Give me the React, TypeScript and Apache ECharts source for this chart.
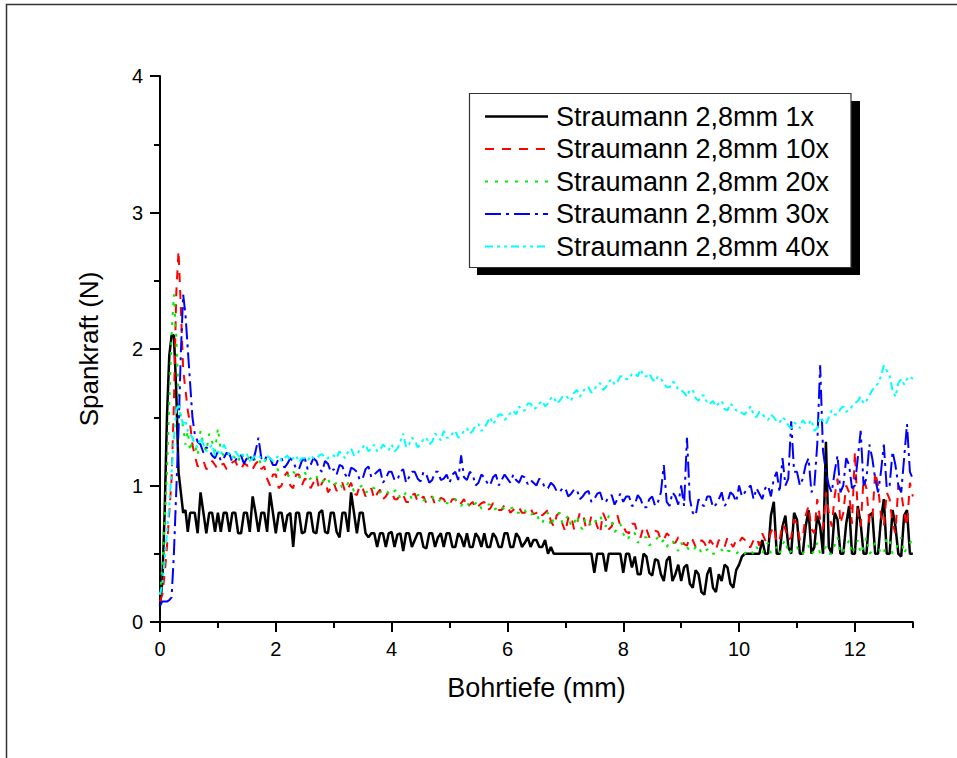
import React, { useEffect, useRef } from "react";
import * as echarts from "echarts";

// Drilling depth sampling grid (mm): fine at the start, then every 0.1 mm, plus half-step samples
const depthEarly = [0, 0.04, 0.08, 0.12, 0.16, 0.2, 0.24, 0.28, 0.32, 0.36, 0.4, 0.44, 0.48, 0.52, 0.56];
const depthMain: number[] = [];
for (let i = 6; i <= 130; i++) depthMain.push(i / 10);
const depthMid: number[] = [];
for (let i = 6; i < 130; i++) depthMid.push((i + 0.5) / 10);

const xTicks = [0, 2, 4, 6, 8, 10, 12];

const seriesNames = [
  "Straumann 2,8mm 1x",
  "Straumann 2,8mm 10x",
  "Straumann 2,8mm 20x",
  "Straumann 2,8mm 30x",
  "Straumann 2,8mm 40x",
];

// Spankraft (N) at depthEarly + depthMain
const force1x = [
  0.12, 0.3, 0.8, 1.5, 1.95, 2.1, 2.1, 1.7, 1.1, 0.95, 0.8, 0.82, 0.66, 0.8, 0.8,
  0.8, 0.95, 0.65, 0.8,
  0.8, 0.8, 0.66, 0.8, 0.65, 0.8, 0.92, 0.66, 0.8, 0.95,
  0.65, 0.8, 0.78, 0.55, 0.8, 0.66, 0.8, 0.65, 0.82, 0.65,
  0.8, 0.62, 0.8, 0.95, 0.65, 0.8, 0.62, 0.65, 0.65, 0.55,
  0.66, 0.64, 0.52, 0.65, 0.6, 0.65, 0.54, 0.65, 0.62, 0.55,
  0.65, 0.55, 0.62, 0.65, 0.55, 0.62, 0.65, 0.55, 0.62, 0.55,
  0.65, 0.55, 0.62, 0.58, 0.55, 0.6, 0.55, 0.5, 0.5, 0.5,
  0.5, 0.5, 0.5, 0.5, 0.5, 0.36, 0.5, 0.37, 0.5, 0.5,
  0.36, 0.5, 0.48, 0.35, 0.48, 0.34, 0.45, 0.3, 0.48, 0.35,
  0.3, 0.42, 0.25, 0.35, 0.2, 0.4, 0.22, 0.3, 0.4, 0.25,
  0.42, 0.5, 0.5, 0.5, 0.6, 0.5, 0.88, 0.5, 0.78, 0.5,
  0.75, 0.5, 0.82, 0.55, 0.7, 1.32, 0.5, 0.75, 0.5, 0.85,
  0.5, 0.72, 0.5, 0.8, 0.5, 0.9, 0.5, 0.7, 0.48, 0.82,
  0.5,
];
// Spankraft (N) at depthMid
const force1xMid = [
  0.65, 0.8, 0.8, 0.66,
  0.66, 0.8, 0.8, 0.65, 0.8, 0.66, 0.8, 0.8, 0.66, 0.8,
  0.8, 0.66, 0.8, 0.8, 0.65, 0.8, 0.66, 0.8, 0.66, 0.8,
  0.66, 0.8, 0.66, 0.8, 0.8, 0.65, 0.65, 0.55, 0.65, 0.65,
  0.55, 0.65, 0.65, 0.55, 0.65, 0.55, 0.65, 0.55, 0.65, 0.65,
  0.55, 0.65, 0.55, 0.55, 0.65, 0.55, 0.55, 0.65, 0.55, 0.65,
  0.55, 0.65, 0.55, 0.62, 0.6, 0.55, 0.6, 0.55, 0.5, 0.5,
  0.5, 0.5, 0.5, 0.5, 0.5, 0.5, 0.5, 0.5, 0.5, 0.5,
  0.5, 0.4, 0.35, 0.5, 0.36, 0.46, 0.35, 0.45, 0.3, 0.42,
  0.4, 0.28, 0.38, 0.22, 0.35, 0.25, 0.35, 0.42, 0.28, 0.38,
  0.48, 0.5, 0.5, 0.5, 0.5, 0.78, 0.5, 0.7, 0.55, 0.8,
  0.5, 0.7, 0.5, 0.78, 0.5, 0.55, 0.8, 0.5, 0.72, 0.5,
  0.85, 0.5, 0.78, 0.5, 0.75, 0.5, 0.82, 0.5, 0.78, 0.5,
];

const force10x = [
  0.15, 0.2, 0.35, 0.55, 0.8, 1.05, 1.6, 2.4, 2.72, 2.3, 1.85, 1.7, 1.55, 1.45, 1.3,
  1.22, 1.15, 1.12, 1.18,
  1.12, 1.16, 1.13, 1.18, 1.12, 1.15, 1.12, 1.18, 1.14, 1.0,
  1.08, 1.0, 1.1, 0.98, 1.08, 1.05, 0.98, 1.07, 1.02, 0.95,
  1.02, 1.0, 0.95, 1.02, 0.93, 0.98, 0.95, 0.9, 0.97, 0.92,
  0.95, 0.9, 0.93, 0.88, 0.94, 0.9, 0.87, 0.92, 0.88, 0.9,
  0.86, 0.9, 0.87, 0.84, 0.88, 0.85, 0.88, 0.83, 0.86, 0.82,
  0.85, 0.82, 0.84, 0.8, 0.83, 0.8, 0.78, 0.82, 0.7, 0.8,
  0.66, 0.78, 0.72, 0.8, 0.68, 0.77, 0.65, 0.75, 0.7, 0.78,
  0.7, 0.65, 0.72, 0.62, 0.68, 0.64, 0.66, 0.6, 0.63, 0.58,
  0.62, 0.56, 0.6, 0.55, 0.58, 0.6, 0.53, 0.58, 0.62, 0.55,
  0.58, 0.6, 0.55, 0.62, 0.65, 0.58, 0.7, 0.6, 0.68, 0.62,
  0.72, 0.62, 0.85, 0.65, 0.75, 0.95, 0.7, 1.05, 0.8, 0.95,
  1.25, 0.7, 0.98, 0.75, 1.0, 0.7, 0.9, 0.65, 0.95, 0.7,
  0.92,
];
const force10xMid = [
  1.14, 1.18, 1.13, 1.15,
  1.15, 1.12, 1.17, 1.13, 1.16, 1.11, 1.16, 1.12, 1.05, 1.08,
  0.98, 1.07, 1.0, 1.08, 1.0, 1.04, 1.02, 0.97, 1.05, 0.98,
  0.96, 1.02, 0.98, 0.94, 1.0, 0.92, 0.98, 0.94, 0.9, 0.96,
  0.9, 0.94, 0.88, 0.93, 0.88, 0.92, 0.9, 0.86, 0.91, 0.86,
  0.9, 0.85, 0.9, 0.86, 0.83, 0.87, 0.82, 0.87, 0.82, 0.86,
  0.8, 0.85, 0.8, 0.83, 0.79, 0.82, 0.8, 0.74, 0.78, 0.72,
  0.76, 0.68, 0.8, 0.7, 0.78, 0.7, 0.8, 0.68, 0.76, 0.7,
  0.66, 0.72, 0.64, 0.7, 0.62, 0.67, 0.6, 0.65, 0.58, 0.62,
  0.57, 0.62, 0.55, 0.6, 0.54, 0.57, 0.6, 0.55, 0.58, 0.6,
  0.62, 0.55, 0.6, 0.56, 0.6, 0.66, 0.58, 0.72, 0.6, 0.75,
  0.6, 0.78, 0.68, 0.9, 0.68, 0.8, 0.92, 0.72, 1.0, 0.72,
  0.8, 1.05, 0.72, 1.1, 0.78, 0.95, 0.72, 1.0, 0.8, 1.02,
];

const force20x = [
  0.2, 0.4, 0.75, 1.1, 1.6, 2.1, 2.4, 2.1, 1.65, 1.5, 1.43, 1.3, 1.4, 1.25, 1.35,
  1.3, 1.4, 1.25, 1.32,
  1.42, 1.22, 1.25, 1.2, 1.24, 1.18, 1.22, 1.2, 1.17, 1.2,
  1.15, 1.12, 1.08, 1.1, 1.05, 1.1, 1.05, 1.07, 1.02, 1.05,
  1.0, 1.03, 0.98, 1.0, 0.97, 1.0, 0.96, 0.98, 0.95, 0.97,
  0.93, 0.97, 0.92, 0.95, 0.9, 0.93, 0.9, 0.92, 0.88, 0.9,
  0.87, 0.9, 0.85, 0.88, 0.85, 0.88, 0.84, 0.86, 0.83, 0.85,
  0.82, 0.84, 0.8, 0.82, 0.78, 0.8, 0.72, 0.8, 0.76, 0.8,
  0.75, 0.7, 0.78, 0.68, 0.75, 0.72, 0.78, 0.7, 0.74, 0.68,
  0.65, 0.62, 0.65, 0.6, 0.62, 0.58, 0.62, 0.6, 0.58, 0.55,
  0.58, 0.55, 0.52, 0.56, 0.52, 0.54, 0.5, 0.53, 0.52, 0.5,
  0.52, 0.5, 0.52, 0.55, 0.5, 0.58, 0.52, 0.5, 0.6, 0.52,
  0.55, 0.5, 0.56, 0.52, 0.5, 0.55, 0.5, 0.62, 0.52, 0.6,
  0.55, 0.5, 0.62, 0.52, 0.56, 0.5, 0.6, 0.52, 0.62, 0.55,
  0.6,
];
const force20xMid = [
  1.22, 1.3, 1.38, 1.25,
  1.25, 1.2, 1.22, 1.17, 1.2, 1.22, 1.18, 1.15, 1.2, 1.16,
  1.1, 1.14, 1.06, 1.08, 1.1, 1.04, 1.08, 1.03, 1.06, 1.0,
  1.02, 0.98, 1.02, 0.96, 0.99, 0.95, 0.99, 0.94, 0.96, 0.94,
  0.96, 0.9, 0.95, 0.9, 0.93, 0.89, 0.91, 0.88, 0.9, 0.87,
  0.89, 0.86, 0.88, 0.84, 0.87, 0.83, 0.86, 0.82, 0.85, 0.82,
  0.83, 0.8, 0.83, 0.78, 0.8, 0.74, 0.78, 0.7, 0.78, 0.72,
  0.78, 0.72, 0.7, 0.76, 0.7, 0.76, 0.72, 0.78, 0.66, 0.72,
  0.6, 0.66, 0.58, 0.62, 0.56, 0.6, 0.58, 0.55, 0.6, 0.52,
  0.54, 0.52, 0.55, 0.5, 0.53, 0.5, 0.52, 0.5, 0.52, 0.5,
  0.5, 0.53, 0.5, 0.52, 0.55, 0.5, 0.55, 0.57, 0.5, 0.55,
  0.5, 0.54, 0.5, 0.58, 0.52, 0.5, 0.56, 0.5, 0.55, 0.5,
  0.6, 0.55, 0.5, 0.58, 0.5, 0.62, 0.5, 0.58, 0.5, 0.58,
];

const force30x = [
  0.12, 0.15, 0.15, 0.15, 0.16, 0.18, 0.5, 0.95, 1.4, 1.97, 2.4, 2.25, 2.0, 1.75, 1.5,
  1.38, 1.3, 1.28, 1.22,
  1.25, 1.2, 1.23, 1.18, 1.22, 1.2, 1.17, 1.35, 1.18, 1.2,
  1.15, 1.2, 1.16, 1.18, 1.12, 1.2, 1.15, 1.18, 1.1, 1.16,
  1.12, 1.15, 1.08, 1.13, 1.1, 1.05, 1.14, 1.08, 1.12, 1.05,
  1.1, 1.04, 1.12, 1.06, 1.1, 1.03, 1.08, 1.04, 1.1, 1.05,
  1.02, 1.1, 1.22, 1.04, 1.08, 1.02, 1.06, 1.0, 1.08, 1.04,
  1.05, 1.08, 1.02, 1.06, 1.04, 1.0, 1.03, 0.98, 1.0, 0.95,
  0.98, 0.94, 0.97, 0.92, 0.96, 0.9, 0.95, 0.88, 0.93, 0.9,
  0.88, 0.92, 0.86, 0.9, 0.84, 0.92, 0.88, 1.15, 0.85, 0.92,
  1.0, 1.35, 0.8, 0.9, 0.85, 0.92, 0.86, 0.95, 0.88, 0.93,
  1.0, 0.95, 1.0, 0.98, 0.9, 1.0, 1.05, 0.95, 1.0, 1.47,
  1.1, 1.05, 1.2, 1.0, 1.88, 1.1, 0.95, 1.22, 1.0, 1.15,
  1.0, 1.4, 1.05, 1.2, 0.95, 1.3, 1.0, 1.15, 0.95, 1.45,
  1.05,
];
const force30xMid = [
  1.32, 1.24, 1.26, 1.2,
  1.18, 1.24, 1.17, 1.22, 1.16, 1.22, 1.25, 1.2, 1.22, 1.15,
  1.2, 1.13, 1.2, 1.12, 1.18, 1.12, 1.2, 1.12, 1.18, 1.1,
  1.08, 1.14, 1.05, 1.12, 1.04, 1.12, 1.06, 1.1, 1.02, 1.1,
  1.04, 1.1, 1.02, 1.1, 1.05, 1.1, 1.02, 1.1, 1.04, 1.08,
  1.08, 1.04, 1.06, 1.1, 1.0, 1.08, 1.02, 1.06, 1.0, 1.08,
  1.02, 1.04, 1.07, 1.01, 1.02, 1.05, 0.98, 1.02, 0.96, 0.98,
  0.92, 0.97, 0.9, 0.95, 0.88, 0.94, 0.88, 0.92, 0.86, 0.94,
  0.92, 0.85, 0.93, 0.84, 0.9, 0.85, 0.95, 0.88, 0.95, 0.86,
  0.85, 0.9, 0.78, 0.86, 0.92, 0.84, 0.9, 0.85, 0.95, 0.88,
  0.92, 0.98, 0.9, 0.94, 0.98, 0.92, 1.1, 1.2, 1.05, 1.1,
  1.0, 1.15, 0.95, 1.3, 1.25, 1.0, 1.1, 0.95, 1.2, 0.98,
  1.2, 1.0, 1.3, 1.05, 1.1, 0.98, 1.25, 1.0, 1.2, 1.1,
];

const force40x = [
  0.2, 0.28, 0.45, 0.65, 0.85, 1.1, 1.35, 1.55, 1.6, 1.5, 1.45, 1.48, 1.4, 1.38, 1.35,
  1.3, 1.35, 1.25, 1.3,
  1.25, 1.3, 1.22, 1.25, 1.2, 1.23, 1.2, 1.22, 1.18, 1.2,
  1.2, 1.18, 1.22, 1.2, 1.17, 1.2, 1.22, 1.2, 1.23, 1.2,
  1.22, 1.25, 1.2, 1.27, 1.23, 1.28, 1.25, 1.3, 1.26, 1.28,
  1.3, 1.27, 1.38, 1.3, 1.33, 1.3, 1.35, 1.32, 1.36, 1.4,
  1.35, 1.4, 1.37, 1.42, 1.4, 1.45, 1.42, 1.5, 1.48, 1.52,
  1.5, 1.55, 1.58, 1.55, 1.6, 1.57, 1.62, 1.6, 1.65, 1.62,
  1.66, 1.62, 1.7, 1.68, 1.72, 1.7, 1.75, 1.72, 1.78, 1.76,
  1.8, 1.78, 1.82, 1.85, 1.8, 1.78, 1.8, 1.75, 1.72, 1.75,
  1.7, 1.65, 1.7, 1.62, 1.66, 1.6, 1.58, 1.62, 1.55, 1.58,
  1.55, 1.52, 1.58, 1.5, 1.52, 1.48, 1.5, 1.46, 1.48, 1.42,
  1.45, 1.48, 1.45, 1.4, 1.5, 1.45, 1.55, 1.52, 1.58, 1.55,
  1.6, 1.65, 1.62, 1.7, 1.75, 1.88, 1.8, 1.65, 1.78, 1.78,
  1.78,
];
const force40xMid = [
  1.28, 1.3, 1.27, 1.22,
  1.22, 1.26, 1.2, 1.22, 1.24, 1.18, 1.22, 1.2, 1.22, 1.18,
  1.22, 1.2, 1.18, 1.22, 1.2, 1.18, 1.2, 1.22, 1.2, 1.22,
  1.2, 1.22, 1.25, 1.22, 1.26, 1.3, 1.27, 1.25, 1.3, 1.26,
  1.25, 1.32, 1.28, 1.35, 1.28, 1.34, 1.3, 1.38, 1.33, 1.35,
  1.38, 1.35, 1.4, 1.38, 1.44, 1.4, 1.46, 1.45, 1.52, 1.48,
  1.53, 1.52, 1.55, 1.6, 1.56, 1.6, 1.58, 1.64, 1.6, 1.65,
  1.64, 1.68, 1.65, 1.72, 1.68, 1.74, 1.7, 1.76, 1.74, 1.8,
  1.78, 1.82, 1.8, 1.8, 1.82, 1.76, 1.78, 1.72, 1.76, 1.7,
  1.68, 1.7, 1.64, 1.66, 1.6, 1.62, 1.6, 1.56, 1.6, 1.55,
  1.53, 1.55, 1.52, 1.54, 1.5, 1.52, 1.47, 1.5, 1.44, 1.46,
  1.42, 1.45, 1.48, 1.42, 1.47, 1.5, 1.52, 1.56, 1.54, 1.58,
  1.62, 1.6, 1.66, 1.72, 1.8, 1.84, 1.7, 1.75, 1.74, 1.8,
];

const allForces = [force1x, force10x, force20x, force30x, force40x];
const allMids = [force1xMid, force10xMid, force20xMid, force30xMid, force40xMid];
const colors = ["#000000", "#ff0000", "#00ee00", "#0000ff", "#00ffff"];
const dashes: (number[] | "solid")[] = ["solid", [9, 8], [3, 7], [16, 5, 3, 5], [8, 4, 3, 4, 3, 4]];
const widths = [2.5, 2, 2, 2, 2];

const FONT = "'Liberation Sans', Arial, Helvetica, sans-serif";

function buildData(vals: number[], mids: number[]) {
  const out: number[][] = [];
  const nEarly = depthEarly.length;
  for (let k = 0; k < nEarly; k++) out.push([depthEarly[k], vals[k]]);
  for (let k = 0; k < depthMain.length; k++) {
    out.push([depthMain[k], vals[nEarly + k]]);
    if (k < depthMid.length) out.push([depthMid[k], mids[k]]);
  }
  return out;
}

export default function App() {
  const ref = useRef<HTMLDivElement>(null);

  useEffect(() => {
    if (!ref.current) return;
    const chart = echarts.init(ref.current, undefined, { renderer: "svg" });

    const series = allForces.map((vals, i) => ({
      name: seriesNames[i],
      type: "line",
      xAxisIndex: 0,
      yAxisIndex: 0,
      data: buildData(vals, allMids[i]),
      showSymbol: false,
      symbol: "none",
      clip: true,
      lineStyle: { color: colors[i], width: widths[i], type: dashes[i], cap: "butt" },
      z: 2 + i,
    }));

    const legendRows = [116.5, 149, 181.5, 214, 246.5];
    const legendGraphics: any[] = [
      {
        type: "rect",
        shape: { x: 477, y: 101, width: 383, height: 174 },
        style: { fill: "#000" },
        silent: true,
        z: 20,
      },
      {
        type: "rect",
        shape: { x: 469.5, y: 93.5, width: 381.5, height: 174 },
        style: { fill: "#fff", stroke: "#333", lineWidth: 1.2 },
        silent: true,
        z: 21,
      },
    ];
    seriesNames.forEach((n, i) => {
      legendGraphics.push({
        type: "line",
        shape: { x1: 485, y1: legendRows[i], x2: 548, y2: legendRows[i] },
        style: {
          stroke: colors[i],
          lineWidth: widths[i],
          lineDash: dashes[i] === "solid" ? null : dashes[i],
        },
        silent: true,
        z: 22,
      });
      legendGraphics.push({
        type: "text",
        x: 556,
        y: legendRows[i],
        style: {
          text: n,
          fontSize: 27,
          fontFamily: FONT,
          fill: "#000",
          verticalAlign: "middle",
          align: "left",
        },
        silent: true,
        z: 22,
      });
    });

    const axisLineStyle = { color: "#000", width: 2 };

    chart.setOption({
      animation: false,
      backgroundColor: "#fff",
      grid: { left: 160, right: 44.2, top: 76, bottom: 136, containLabel: false },
      xAxis: [
        {
          type: "value",
          min: 0,
          max: 13,
          interval: 2,
          position: "bottom",
          axisLine: { show: true, lineStyle: axisLineStyle },
          axisTick: { show: true, length: 10, lineStyle: axisLineStyle, customValues: xTicks },
          axisLabel: {
            customValues: xTicks,
            margin: 17,
            fontSize: 20,
            fontFamily: FONT,
            color: "#000",
            formatter: (v: number) => (v === 13 ? "" : String(v)),
          },
          splitLine: { show: false },
          name: "Bohrtiefe (mm)",
          nameLocation: "middle",
          nameGap: 52,
          nameTextStyle: { fontSize: 27, fontFamily: FONT, color: "#000" },
        },
        {
          type: "value",
          min: 0,
          max: 13,
          interval: 1,
          position: "bottom",
          axisLine: { show: false },
          axisTick: { show: true, length: 6, lineStyle: axisLineStyle },
          axisLabel: { show: false },
          splitLine: { show: false },
        },
      ],
      yAxis: {
        type: "value",
        min: 0,
        max: 4,
        interval: 1,
        axisLine: { show: true, lineStyle: axisLineStyle },
        axisTick: { show: true, length: 10, lineStyle: axisLineStyle },
        minorTick: { show: true, splitNumber: 2, length: 6, lineStyle: axisLineStyle },
        axisLabel: { margin: 17, fontSize: 20, fontFamily: FONT, color: "#000" },
        splitLine: { show: false },
        minorSplitLine: { show: false },
        name: "Spankraft (N)",
        nameLocation: "middle",
        nameGap: 58,
        nameRotate: 90,
        nameTextStyle: { fontSize: 26, fontFamily: FONT, color: "#000" },
      },
      series,
      graphic: [
        {
          type: "rect",
          shape: { x: 6.5, y: 4.5, width: 1000, height: 1000 },
          style: { fill: "none", stroke: "#333", lineWidth: 1.5 },
          silent: true,
          z: 30,
        },
        ...legendGraphics,
      ],
    });

    return () => chart.dispose();
  }, []);

  return (
    <div
      ref={ref}
      style={{ position: "fixed", left: 0, top: 0, width: 957, height: 758, background: "#fff" }}
    />
  );
}
